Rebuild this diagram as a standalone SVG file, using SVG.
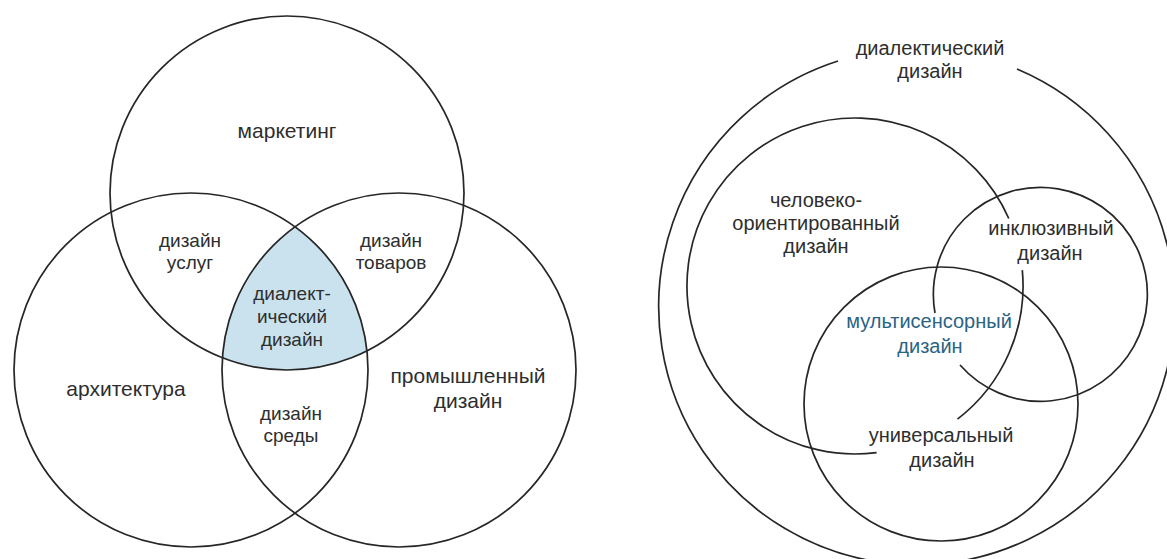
<svg xmlns="http://www.w3.org/2000/svg" width="1167" height="559" viewBox="0 0 1167 559">
  <style>
    .c { fill: none; stroke: #262626; stroke-width: 1.7; }
    .t { font-family: "Liberation Sans", Arial, sans-serif; fill: #2e2e2e; text-anchor: middle; }
    .big { font-size: 21px; }
    .sm { font-size: 19px; }
    .r { font-size: 20px; }
    .blue { fill: #2b6384; }
  </style>
  <defs>
    <clipPath id="clipLeft"><circle cx="191" cy="370" r="177"/></clipPath>
    <clipPath id="clipRight"><circle cx="399" cy="370" r="177"/></clipPath>
  </defs>
  <rect width="1167" height="559" fill="#ffffff"/>

  <!-- Left Venn diagram -->
  <g id="dialectic-fill" clip-path="url(#clipLeft)">
    <g clip-path="url(#clipRight)">
      <circle cx="287" cy="193" r="177" fill="#c9e2ed"/>
    </g>
  </g>
  <g id="connectors">
    <circle class="c" cx="287" cy="193" r="177"/>
    <circle class="c" cx="191" cy="370" r="177"/>
    <circle class="c" cx="399" cy="370" r="177"/>
    <!-- Right diagram -->
    <path class="c" d="M 1017 69 A 258 258 0 1 1 838 61"/>
    <path class="c" d="M 876.6 452.6 A 168 168 0 1 1 1008.8 218.5"/>
    <path class="c" d="M 1022.3 270.2 A 168 168 0 0 1 957.5 419.1"/>
    <path class="c" d="M 960 365 A 107 107 0 1 0 935 313"/>
    <circle class="c" cx="941" cy="404" r="137"/>
  </g>

  <g id="marketing"><text class="t big" x="287" y="138">маркетинг</text></g>
  <g id="architecture"><text class="t big" x="126" y="396">архитектура</text></g>
  <g id="industrial"><text class="t big" x="468" y="383">промышленный</text><text class="t big" x="468" y="408">дизайн</text></g>
  <g id="service-design"><text class="t sm" x="190" y="247">дизайн</text><text class="t sm" x="190" y="269">услуг</text></g>
  <g id="product-design"><text class="t sm" x="391" y="247">дизайн</text><text class="t sm" x="391" y="269">товаров</text></g>
  <g id="environment-design"><text class="t sm" x="291" y="420">дизайн</text><text class="t sm" x="291" y="442">среды</text></g>
  <g id="dialectic-design"><text class="t sm" x="292" y="300">диалект-</text><text class="t sm" x="292" y="323">ический</text><text class="t sm" x="292" y="346">дизайн</text></g>

  <g id="dialectic-outer"><text class="t r" x="930" y="55">диалектический</text><text class="t r" x="930" y="78">дизайн</text></g>
  <g id="human-centered"><text class="t r" x="816" y="207">человеко-</text><text class="t r" x="816" y="230">ориентированный</text><text class="t r" x="816" y="253">дизайн</text></g>
  <g id="inclusive"><text class="t r" x="1051" y="235">инклюзивный</text><text class="t r" x="1050" y="260">дизайн</text></g>
  <g id="multisensory"><text class="t r blue" x="929" y="328">мультисенсорный</text><text class="t r blue" x="930" y="353">дизайн</text></g>
  <g id="universal"><text class="t r" x="941" y="442">универсальный</text><text class="t r" x="942" y="467">дизайн</text></g>
</svg>
